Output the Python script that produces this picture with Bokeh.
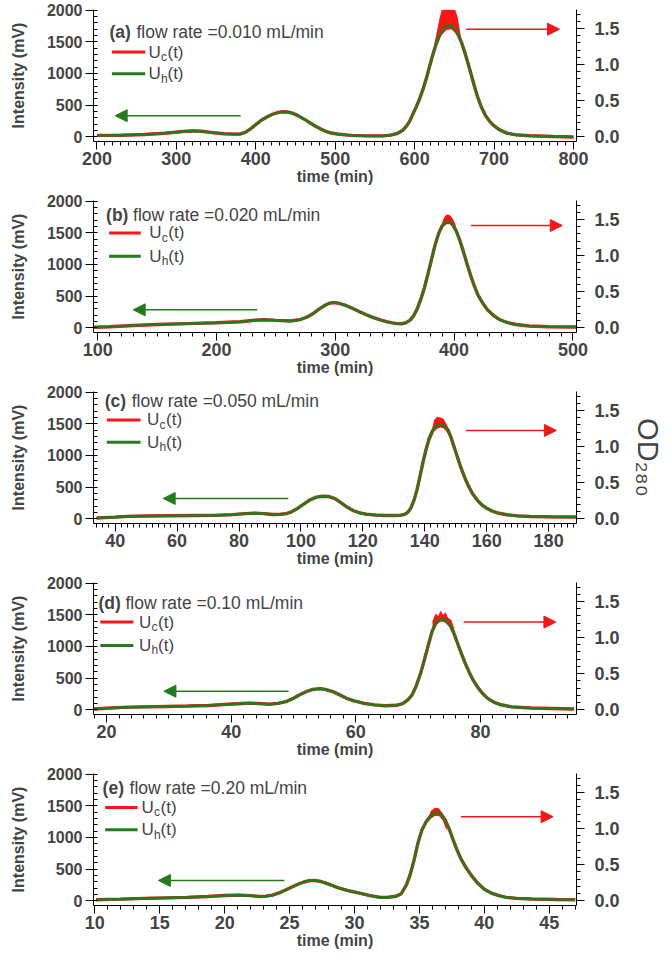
from bokeh.plotting import figure
from bokeh.layouts import column
from bokeh.models import (Range1d, LinearAxis, SingleIntervalTicker, Arrow, NormalHead,
                          Label, NumeralTickFormatter)
from bokeh.embed import file_html
from bokeh.resources import INLINE

# ---------------- data ----------------
# panel (a) flow rate 0.010 mL/min ; uh = intensity (mV), uc = OD280
time_a = [200, 230, 260, 285, 300, 312, 322, 332, 345, 360, 372, 380,
          387, 393, 400, 407, 414, 421, 428, 434, 440, 446, 452, 458, 464, 470, 476, 482, 488, 495, 505, 520,
          540,
          560, 570, 578, 585, 590, 594, 598, 602, 606, 611, 615, 619, 623, 627, 631, 635, 639, 643, 647, 651,
          655, 659, 663, 667, 671, 675, 679, 684, 689, 694, 699, 706, 716, 728, 745, 775, 800]
uh_a = [20, 22, 35, 55, 72, 86, 92, 85, 65, 46, 40, 41,
        70, 120, 190, 260, 310, 355, 382, 393, 390, 372, 340, 298, 254, 205, 160, 120, 85, 58, 38, 20,
        12,
        12, 25, 50, 100, 170, 250, 362, 470, 590, 768, 930, 1120, 1300, 1460, 1590, 1685, 1740, 1760, 1745, 1700,
        1610, 1490, 1340, 1170, 990, 810, 640, 470, 340, 250, 183, 115, 56, 28, 15, 3, -5]
uc_a = [0.018, 0.019, 0.031, 0.048, 0.063, 0.075, 0.081, 0.075, 0.057, 0.040, 0.035, 0.036,
        0.061, 0.105, 0.167, 0.228, 0.272, 0.311, 0.335, 0.345, 0.342, 0.326, 0.298, 0.261, 0.223, 0.180,
        0.140, 0.105, 0.075, 0.051, 0.033, 0.018,
        0.011,
        0.011, 0.022, 0.044, 0.088, 0.149, 0.219, 0.317, 0.412, 0.517, 0.674, 0.816, 0.982, 1.140, 1.280,
        1.394, 1.478, 1.526, 1.544, 1.530, 1.491, 1.412, 1.307, 1.175, 1.026, 0.868, 0.710, 0.561, 0.412,
        0.298, 0.219, 0.160, 0.101, 0.049, 0.025, 0.013, 0.003, -0.004]
noise_t_a = [622, 627, 631, 634, 640, 646, 651, 654, 658, 662]
noise_hi_a = [1.13, 1.403, 1.622, 1.76, 1.76, 1.76, 1.76, 1.666, 1.403, 1.166]
noise_lo_a = [1.09, 1.25, 1.37, 1.41, 1.48, 1.49, 1.44, 1.39, 1.28, 1.15]

# panel (b) flow rate 0.020 mL/min
time_b = [97, 110, 130, 150, 175, 200, 220, 232, 240, 250, 262,
          270, 276, 281, 286, 291, 295, 299, 303, 308, 314, 320, 326, 332, 338, 343, 348, 352, 356,
          359, 363, 366, 369, 372, 375, 378, 381, 384, 387, 390, 393, 395, 397, 399, 402, 405, 408, 411, 414,
          417, 420, 424, 428, 433, 438, 444, 452, 463, 480, 503]
uh_b = [8, 15, 35, 51, 65, 77, 95, 118, 127, 115, 105,
        125, 165, 220, 290, 350, 385, 397, 385, 358, 310, 256, 205, 160, 122, 95, 75, 65, 63,
        75, 120, 190, 300, 450, 630, 850, 1080, 1310, 1490, 1610, 1660, 1667, 1660, 1620, 1520, 1370, 1190,
        1000, 820, 660, 520, 390, 285, 195, 130, 85, 50, 26, 15, 10]
uc_b = [0.007, 0.013, 0.031, 0.045, 0.057, 0.068, 0.083, 0.103, 0.111, 0.101, 0.092,
        0.110, 0.145, 0.193, 0.254, 0.307, 0.338, 0.348, 0.338, 0.314, 0.272, 0.225, 0.180, 0.140, 0.107,
        0.083, 0.066, 0.057, 0.055,
        0.066, 0.105, 0.167, 0.263, 0.395, 0.553, 0.745, 0.947, 1.149, 1.307, 1.412, 1.456, 1.462, 1.456,
        1.421, 1.333, 1.201, 1.044, 0.877, 0.719, 0.579, 0.456, 0.342, 0.250, 0.171, 0.114, 0.075, 0.044,
        0.023, 0.013, 0.009]
noise_t_b = [388, 391, 393, 395, 397, 399, 401, 403]
noise_hi_b = [1.368, 1.508, 1.561, 1.570, 1.552, 1.508, 1.438, 1.298]
noise_lo_b = [1.333, 1.403, 1.438, 1.456, 1.438, 1.412, 1.351, 1.254]

# panel (c) flow rate 0.050 mL/min
time_c = [34, 40, 44, 50, 58, 66, 72, 78, 82, 85, 88, 91, 93, 95,
          97, 99, 101, 103, 105, 107, 109, 111, 113, 115, 117, 119, 121, 124, 127,
          130, 132, 133.5, 134.5, 135.5, 136.5, 137.5, 138.5, 139.5, 140.5, 141.5, 142.5, 143.5, 144.5, 145.5,
          146.5, 147.5, 148.5, 149.5, 150.5, 151.5, 152.5, 153.5, 154.5, 155.5, 157, 158.5, 160, 162, 164,
          166.5, 170, 174, 181, 189]
uh_c = [10, 25, 36, 42, 47, 50, 52, 65, 80, 88, 80, 66, 68, 78,
        110, 165, 235, 300, 340, 355, 350, 318, 250, 180, 125, 92, 72, 58, 50,
        50, 52, 70, 100, 170, 290, 460, 680, 910, 1110, 1280, 1390, 1450, 1485, 1493,
        1465, 1400, 1280, 1130, 980, 830, 700, 580, 480, 390, 290, 215, 165, 115, 85,
        62, 45, 35, 28, 26]
uc_c = [0.009, 0.022, 0.032, 0.037, 0.041, 0.044, 0.046, 0.057, 0.070, 0.077, 0.070, 0.058, 0.060, 0.068,
        0.096, 0.145, 0.206, 0.263, 0.298, 0.311, 0.307, 0.279, 0.219, 0.158, 0.110, 0.081, 0.063, 0.051,
        0.044,
        0.044, 0.046, 0.061, 0.088, 0.149, 0.254, 0.403, 0.596, 0.798, 0.973, 1.123, 1.219, 1.272, 1.302,
        1.309, 1.285, 1.228, 1.123, 0.991, 0.859, 0.728, 0.614, 0.509, 0.421, 0.342, 0.254, 0.189, 0.145,
        0.101, 0.075, 0.054, 0.039, 0.031, 0.025, 0.023]
noise_t_c = [142, 143, 144, 145, 146, 147, 148]
noise_hi_c = [1.175, 1.368, 1.412, 1.403, 1.386, 1.316, 1.210]
noise_lo_c = [1.105, 1.210, 1.245, 1.263, 1.254, 1.210, 1.140]

# panel (d) flow rate 0.10 mL/min
time_d = [18, 20, 22.6, 26, 29.5, 33, 36.4, 39.5, 42.6, 44.5, 46.1, 47.5, 48.8,
          50, 50.9, 52, 53, 54.3, 55.3, 56.4, 57.5, 58.5, 59.7, 61.2, 63, 64.7,
          66.5, 67.5, 68.3, 69, 69.7, 70.4, 71, 71.6, 72.2, 72.8, 73.4, 74, 74.6, 75.2, 75.8, 76.4, 77, 77.6,
          78.2, 78.8, 79.5, 80.3, 81.2, 82.2, 83.3, 85, 88.1, 95]
uh_d = [10, 22, 36, 45, 51, 58, 67, 85, 103, 98, 87, 100, 128,
        180, 231, 285, 318, 333, 315, 282, 230, 180, 140, 103, 75, 62,
        70, 95, 150, 230, 380, 580, 790, 1010, 1230, 1360, 1425, 1436, 1400, 1320, 1190, 1026, 870, 720,
        590, 470, 360, 260, 175, 115, 77, 45, 26, 10]
uc_d = [0.009, 0.019, 0.032, 0.039, 0.045, 0.051, 0.059, 0.075, 0.090, 0.086, 0.076, 0.088, 0.112,
        0.158, 0.203, 0.250, 0.279, 0.292, 0.276, 0.247, 0.202, 0.158, 0.123, 0.090, 0.066, 0.054,
        0.061, 0.083, 0.132, 0.202, 0.333, 0.509, 0.693, 0.886, 1.079, 1.193, 1.250, 1.259, 1.228, 1.158,
        1.044, 0.900, 0.763, 0.631, 0.517, 0.412, 0.316, 0.228, 0.153, 0.101, 0.068, 0.039, 0.023, 0.009]
noise_t_d = [72.3, 72.8, 73.2, 73.6, 74.0, 74.4, 74.8, 75.3, 75.8]
noise_hi_d = [1.228, 1.333, 1.298, 1.372, 1.316, 1.351, 1.272, 1.245, 1.123]
noise_lo_d = [1.079, 1.166, 1.201, 1.219, 1.219, 1.201, 1.166, 1.123, 1.009]

# panel (e) flow rate 0.20 mL/min
time_e = [10.1, 12, 13.8, 15.5, 17.1, 18.7, 20, 21.1, 22, 22.7, 23.2, 23.7,
          24.4, 25.1, 25.6, 26.1, 26.5, 26.9, 27.3, 27.7, 28.2, 28.7, 29.5, 30.4, 31.2, 32,
          32.6, 33.2, 33.6, 34.0, 34.3, 34.6, 34.9, 35.2, 35.5, 35.8, 36.1, 36.4, 36.7, 37.0, 37.3, 37.6, 37.9,
          38.2, 38.6, 39.0, 39.5, 40.0, 40.6, 41.2, 41.7, 42.5, 43.7, 45.5, 47]
uh_e = [15, 25, 36, 44, 52, 67, 82, 88, 80, 67, 72, 88,
        140, 207, 255, 295, 315, 320, 308, 284, 248, 207, 160, 119, 80, 52,
        55, 70, 110, 250, 420, 650, 920, 1120, 1240, 1320, 1375, 1395, 1360, 1270, 1130, 960, 800,
        660, 520, 400, 275, 181, 115, 75, 52, 36, 26, 18, 15]
uc_e = [0.013, 0.022, 0.032, 0.039, 0.046, 0.059, 0.072, 0.077, 0.070, 0.059, 0.063, 0.077,
        0.123, 0.182, 0.224, 0.259, 0.276, 0.281, 0.270, 0.249, 0.217, 0.182, 0.140, 0.104, 0.070, 0.046,
        0.048, 0.061, 0.096, 0.219, 0.368, 0.570, 0.807, 0.982, 1.087, 1.158, 1.206, 1.223, 1.193, 1.114,
        0.991, 0.842, 0.702, 0.579, 0.456, 0.351, 0.241, 0.159, 0.101, 0.066, 0.046, 0.032, 0.023, 0.016,
        0.013]
noise_t_e = [35.6, 35.9, 36.2, 36.5, 36.8, 37.1]
noise_hi_e = [1.131, 1.245, 1.289, 1.280, 1.210, 1.035]
noise_lo_e = [1.087, 1.140, 1.175, 1.175, 1.114, 0.965]

panel_tags = ["(a)", "(b)", "(c)", "(d)", "(e)"]
flow_texts = ["flow rate =0.010 mL/min", "flow rate =0.020 mL/min", "flow rate =0.050 mL/min",
              "flow rate =0.10 mL/min", "flow rate =0.20 mL/min"]
x_ranges = [(195.7, 803.8), (96.5, 503.0), (33.0, 189.0), (17.9, 95.4), (9.9, 47.1)]
x_major = [100, 100, 20, 20, 5]
x_minor_n = [10, 10, 10, 10, 5]
y_left_range = (-76, 2010)
y_right_range = (-0.0667, 1.763)
y_left_ticks = 500
y_right_ticks = 0.5

# annotation positions (data units)
title_pos = [(215.8, 1651), (107.1, 1782), (36.6, 1860), (18.7, 1685), (10.6, 1783)]
legend_line = [(218.9, 260.8), (109.6, 136.3), (37.3, 48.2), (19.0, 24.3), (10.8, 13.3)]
legend_y = [(1337, 995), (1497, 1128), (1561, 1209), (1385, 1015), (1473, 1121)]
legend_text_t = [264.9, 143.5, 50.3, 25.2, 13.6]
green_arrow = [(381, 223, 332), (234.3, 129.9, 282), (95.9, 55.5, 320), (49.2, 29.2, 292), (24.6, 14.9, 320)]
red_arrow = [(664.9, 782.4, 1699), (414.3, 491, 1615), (153.3, 182.5, 1395), (77.3, 92.1, 1385),
             (38.2, 45.3, 1328)]

series = [
    (time_a, uh_a, uc_a, noise_t_a, noise_hi_a, noise_lo_a),
    (time_b, uh_b, uc_b, noise_t_b, noise_hi_b, noise_lo_b),
    (time_c, uh_c, uc_c, noise_t_c, noise_hi_c, noise_lo_c),
    (time_d, uh_d, uc_d, noise_t_d, noise_hi_d, noise_lo_d),
    (time_e, uh_e, uc_e, noise_t_e, noise_hi_e, noise_lo_e),
]

# ---------------- styling ----------------
FONT = "Liberation Sans"
GREEN = "#267a1e"
RED = "#ff1414"
ARROW_RED = "#f01818"
W, H = 666, 191
BL, BR, BT, BB = 93, 89, 9, 50

figs = []
for i in range(5):
    t, uh, uc, nt, nhi, nlo = series[i]
    xr = x_ranges[i]
    p = figure(width=W, height=H, x_range=Range1d(*xr), y_range=Range1d(*y_left_range),
               output_backend="svg", toolbar_location=None,
               min_border_left=BL, min_border_right=BR, min_border_top=BT, min_border_bottom=BB)
    p.extra_y_ranges = {"od": Range1d(*y_right_range)}
    p.outline_line_color = None
    p.xgrid.visible = False
    p.ygrid.visible = False
    p.background_fill_color = "white"
    p.border_fill_color = "white"

    # x axis
    xa = p.xaxis[0]
    xa.ticker = SingleIntervalTicker(interval=x_major[i], num_minor_ticks=x_minor_n[i])
    xa.axis_label = "time (min)"
    xa.axis_label_text_font = FONT
    xa.axis_label_text_font_style = "bold"
    xa.axis_label_text_font_size = "16px"
    xa.axis_label_standoff = 0
    xa.major_label_text_font = FONT
    xa.major_label_text_font_style = "bold"
    xa.major_label_text_font_size = "18px"
    xa.major_label_standoff = 2
    xa.major_tick_out = 8
    xa.major_tick_in = 0
    xa.minor_tick_out = 4
    xa.minor_tick_in = 0

    # left axis
    ya = p.yaxis[0]
    ya.ticker = SingleIntervalTicker(interval=y_left_ticks, num_minor_ticks=5)
    ya.axis_label = "Intensity (mV)"
    ya.axis_label_text_font = FONT
    ya.axis_label_text_font_style = "bold"
    ya.axis_label_text_font_size = "16px"
    ya.axis_label_standoff = 17
    ya.major_label_text_font = FONT
    ya.major_label_text_font_style = "bold"
    ya.major_label_text_font_size = "16px"
    ya.major_label_standoff = 3
    ya.major_tick_out = 8
    ya.major_tick_in = 0
    ya.minor_tick_out = 0
    ya.minor_tick_in = 4

    # right axis (OD280)
    ra = LinearAxis(y_range_name="od",
                    ticker=SingleIntervalTicker(interval=y_right_ticks, num_minor_ticks=5),
                    formatter=NumeralTickFormatter(format="0.0"))
    ra.major_label_text_font = FONT
    ra.major_label_text_font_style = "bold"
    ra.major_label_text_font_size = "18px"
    ra.major_label_standoff = 10
    ra.major_tick_out = 8
    ra.major_tick_in = 0
    ra.minor_tick_out = 4
    ra.minor_tick_in = 0
    if i == 2:
        ra.axis_label = "OD\u2082\u2088\u2080"
        ra.axis_label_text_font = FONT
        ra.axis_label_text_font_style = "normal"
        ra.axis_label_text_font_size = "29px"
        ra.axis_label_standoff = 9
    p.add_layout(ra, "right")

    # curves
    p.varea(x=nt, y1=nlo, y2=nhi, fill_color=RED, y_range_name="od")
    p.line(t, uc, line_color=RED, line_width=3.4, y_range_name="od")
    p.line(t, uh, line_color=GREEN, line_width=2.6)

    # title
    tx, ty = title_pos[i]
    p.add_layout(Label(x=tx, y=ty, text=panel_tags[i], text_font=FONT, text_font_style="bold",
                       text_font_size="17.5px", text_baseline="middle"))
    p.add_layout(Label(x=tx, y=ty, x_offset=27, text=flow_texts[i], text_font=FONT,
                       text_font_size="17.5px", text_baseline="middle"))

    # legend
    lx0, lx1 = legend_line[i]
    ly_r, ly_g = legend_y[i]
    p.segment(x0=[lx0], y0=[ly_r], x1=[lx1], y1=[ly_r], line_color=RED, line_width=3)
    p.segment(x0=[lx0], y0=[ly_g], x1=[lx1], y1=[ly_g], line_color=GREEN, line_width=3)
    for ly, sub in ((ly_r, "c"), (ly_g, "h")):
        ltx = legend_text_t[i]
        p.add_layout(Label(x=ltx, y=ly, text="U", text_font=FONT, text_font_size="17px",
                           text_baseline="middle"))
        p.add_layout(Label(x=ltx, y=ly, x_offset=12.5, y_offset=-5, text=sub, text_font=FONT,
                           text_font_size="12px", text_baseline="middle"))
        p.add_layout(Label(x=ltx, y=ly, x_offset=19, text="(t)", text_font=FONT, text_font_size="17px",
                           text_baseline="middle"))

    # arrows
    gs, ge, gy = green_arrow[i]
    p.add_layout(Arrow(end=NormalHead(size=12, fill_color=GREEN, line_color=GREEN),
                       x_start=gs, y_start=gy, x_end=ge, y_end=gy, line_color=GREEN, line_width=1.5))
    rs, re, ry = red_arrow[i]
    p.add_layout(Arrow(end=NormalHead(size=12, fill_color=ARROW_RED, line_color=ARROW_RED),
                       x_start=rs, y_start=ry, x_end=re, y_end=ry, line_color=ARROW_RED, line_width=1.5))
    figs.append(p)

layout = column(*figs, spacing=0)
open("out.html", "w").write(file_html(layout, INLINE))
